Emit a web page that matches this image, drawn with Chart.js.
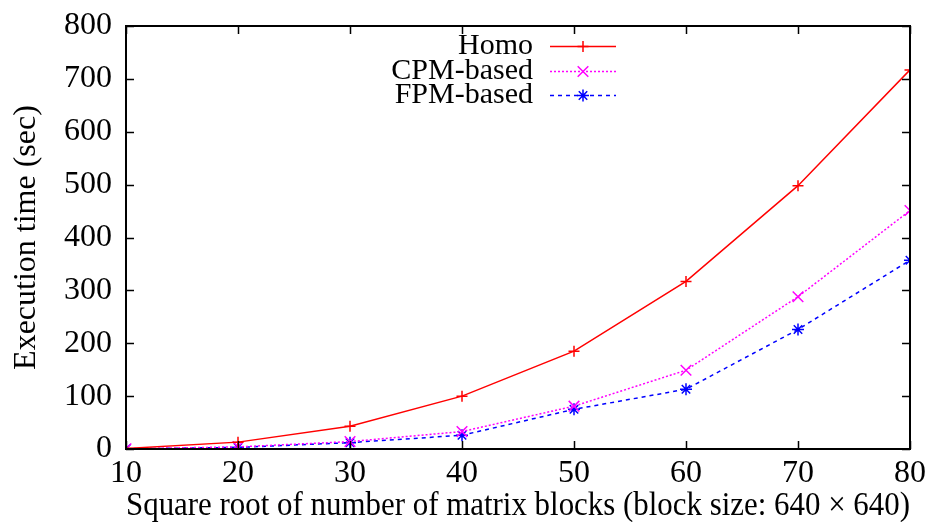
<!DOCTYPE html>
<html>
<head>
<meta charset="utf-8">
<script src="https://cdn.jsdelivr.net/npm/chart.js@4"></script>
<style>
html,body{margin:0;padding:0;background:#fff;}
canvas{display:block;}
</style>
</head>
<body>
<canvas id="c" width="932" height="522"></canvas>
<script>
const xValues = [10, 20, 30, 40, 50, 60, 70, 80];
const homo = [1, 13, 43, 100, 185, 317, 498, 717];
const cpmBased = [0.5, 4, 14, 33, 81, 149, 288, 451];
const fpmBased = [0.3, 3, 12, 26, 75, 113, 226, 357];
const seriesNames = ["Homo", "CPM-based", "FPM-based"];
const xTitle = "Square root of number of matrix blocks (block size: 640 \u00d7 640)";
const yTitle = "Execution time (sec)";

const FONT = "'Liberation Serif', 'DejaVu Serif', serif";

function pts(ys) { return xValues.map((x, i) => ({x: x, y: ys[i]})); }

const frameTicks = {
  id: 'frameTicks',
  afterDatasetsDraw(chart) {
    const {ctx, chartArea: a, scales: {x, y}} = chart;
    ctx.save();
    ctx.strokeStyle = '#000';
    ctx.lineWidth = 1.5;
    const L = 8;
    ctx.beginPath();
    for (let v = 10; v <= 80; v += 10) {
      const px = Math.round(x.getPixelForValue(v)) + 0.5;
      ctx.moveTo(px, a.bottom); ctx.lineTo(px, a.bottom - L);
      ctx.moveTo(px, a.top); ctx.lineTo(px, a.top + L);
    }
    for (let v = 0; v <= 800; v += 100) {
      const py = Math.round(y.getPixelForValue(v)) + 0.5;
      ctx.moveTo(a.left, py); ctx.lineTo(a.left + L, py);
      ctx.moveTo(a.right, py); ctx.lineTo(a.right - L, py);
    }
    ctx.stroke();
    ctx.lineWidth = 2;
    ctx.strokeRect(a.left, a.top, a.right - a.left, a.bottom - a.top);
    ctx.restore();
  }
};

const gnuLegend = {
  id: 'gnuLegend',
  afterDraw(chart) {
    const ctx = chart.ctx;
    const rows = [46, 71, 95];
    const textRight = 533, lx0 = 550, lx1 = 616, mx = 583;
    ctx.save();
    ctx.font = "30px " + FONT;
    ctx.textAlign = 'right';
    ctx.textBaseline = 'middle';
    chart.data.datasets.forEach((ds, i) => {
      const yy = rows[i];
      ctx.fillStyle = '#000';
      ctx.fillText(ds.label, textRight, yy);
      ctx.strokeStyle = ds.borderColor;
      ctx.lineWidth = ds.borderWidth;
      ctx.setLineDash(ds.borderDash || []);
      ctx.beginPath();
      ctx.moveTo(lx0, yy + 0.5); ctx.lineTo(lx1, yy + 0.5);
      ctx.stroke();
      ctx.setLineDash([]);
      Chart.helpers.drawPoint(ctx, {pointStyle: ds.pointStyle, radius: ds.pointRadius, borderWidth: ds.pointBorderWidth || 1.5}, mx, yy + 0.5);
    });
    ctx.restore();
  }
};

new Chart(document.getElementById('c'), {
  type: 'line',
  data: {
    datasets: [
      {label: seriesNames[0], data: pts(homo), borderColor: '#ff0000', backgroundColor: '#ff0000',
       borderWidth: 1.5, pointStyle: 'cross', pointRadius: 5.5, pointBorderWidth: 1.5, tension: 0},
      {label: seriesNames[1], data: pts(cpmBased), borderColor: '#ff00ff', backgroundColor: '#ff00ff',
       borderWidth: 1.5, borderDash: [2, 2], pointStyle: 'crossRot', pointRadius: 7.5, pointBorderWidth: 1.5, tension: 0},
      {label: seriesNames[2], data: pts(fpmBased), borderColor: '#0000ff', backgroundColor: '#0000ff',
       borderWidth: 1.5, borderDash: [4, 4], pointStyle: 'star', pointRadius: 6, pointBorderWidth: 1.5, tension: 0}
    ]
  },
  options: {
    responsive: false,
    animation: false,
    devicePixelRatio: 1,
    layout: {padding: {top: 26, right: 22, left: 0, bottom: 0}},
    plugins: {legend: {display: false}, tooltip: {enabled: false}},
    elements: {point: {hoverRadius: 6}},
    scales: {
      x: {
        type: 'linear', min: 10, max: 80,
        grid: {display: false, drawTicks: false},
        border: {display: false},
        ticks: {stepSize: 10, color: '#000', padding: 5, font: {family: FONT, size: 32}},
        title: {display: true, text: xTitle, color: '#000', font: {family: FONT, size: 33}, padding: {top: 0, bottom: -4}},
        afterFit(s) { s.height = 73; s.paddingLeft = 0; s.paddingRight = 0; }
      },
      y: {
        min: 0, max: 800,
        grid: {display: false, drawTicks: false},
        border: {display: false},
        ticks: {stepSize: 100, color: '#000', padding: 14, font: {family: FONT, size: 32}},
        title: {display: true, text: yTitle, color: '#000', font: {family: FONT, size: 32}, padding: {top: 7, bottom: 0}},
        afterFit(s) { s.width = 126; s.paddingTop = 0; s.paddingBottom = 0; }
      }
    }
  },
  plugins: [frameTicks, gnuLegend]
});
</script>
</body>
</html>
